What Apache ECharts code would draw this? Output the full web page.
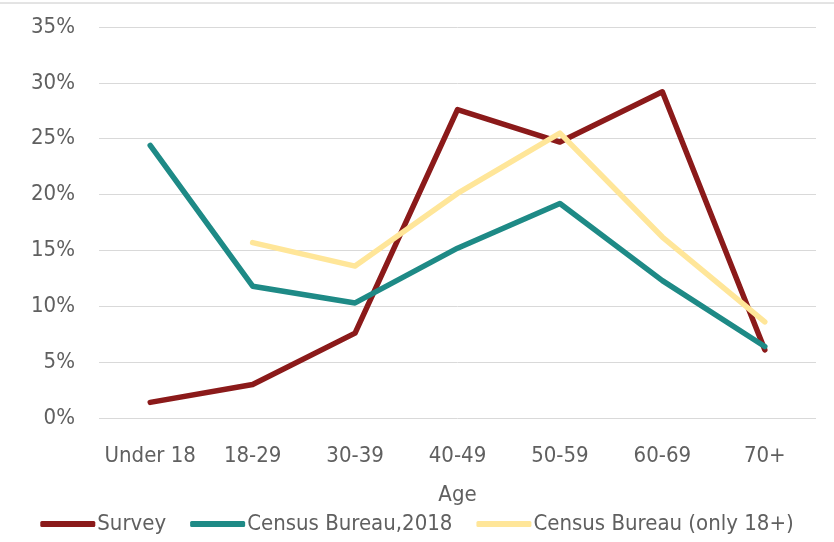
<!DOCTYPE html>
<html><head><meta charset="utf-8">
<script src="https://cdn.jsdelivr.net/npm/echarts@6/dist/echarts.min.js"></script>
<style>html,body{margin:0;padding:0;background:#fff}#c{width:834px;height:542px}</style>
</head><body><div id="c"></div>
<script>
const categories = ['Under 18','18-29','30-39','40-49','50-59','60-69','70+'];
const survey = [1.4, 3.0, 7.6, 27.6, 24.7, 29.2, 6.1];
const census2018 = [24.4, 11.8, 10.3, 15.2, 19.2, 12.3, 6.4];
const census18plus = [null, 15.7, 13.6, 20.1, 25.5, 16.2, 8.6];
const seriesNames = ['Survey','Census Bureau,2018','Census Bureau (only 18+)'];
const colors = ['#8b1a1a','#1e8a86','#ffe699'];
const FONT = '"DejaVu Sans Condensed","Liberation Sans Narrow",sans-serif';
const TXT = '#606060';
const chart = echarts.init(document.getElementById('c'));
const mk = (name, data, color) => ({
  name, type:'line', data, symbol:'none', connectNulls:false,
  lineStyle:{width:5.5,color,cap:'round',join:'round'}, itemStyle:{color}
});
chart.setOption({
  animation:false,
  textStyle:{fontFamily:FONT},
  graphic:[{type:'line',shape:{x1:0,y1:3,x2:834,y2:3},style:{stroke:'#c8c8c8',lineWidth:1}}],
  grid:{left:99,right:18,top:27,bottom:124},
  xAxis:{type:'category',data:categories,boundaryGap:true,
    name:'Age',nameLocation:'middle',nameGap:66,
    nameTextStyle:{color:TXT,fontSize:22,fontFamily:FONT},
    axisLine:{show:false},axisTick:{show:false},
    axisLabel:{color:TXT,fontSize:22,fontFamily:FONT,margin:27,interval:0}},
  yAxis:{type:'value',min:0,max:35,interval:5,
    axisLabel:{color:TXT,fontSize:22,fontFamily:FONT,formatter:'{value}%',margin:24},
    axisLine:{show:false},axisTick:{show:false},
    splitLine:{lineStyle:{color:'#d9d9d9',width:1}}},
  legend:{bottom:2,left:'center',itemWidth:55,itemHeight:6,itemGap:24,
    icon:'roundRect',
    textStyle:{color:TXT,fontSize:22,fontFamily:FONT,padding:[0,0,0,-3]},
    data:seriesNames},
  series:[mk(seriesNames[0],survey,colors[0]),mk(seriesNames[1],census2018,colors[1]),mk(seriesNames[2],census18plus,colors[2])]
});
</script></body></html>
